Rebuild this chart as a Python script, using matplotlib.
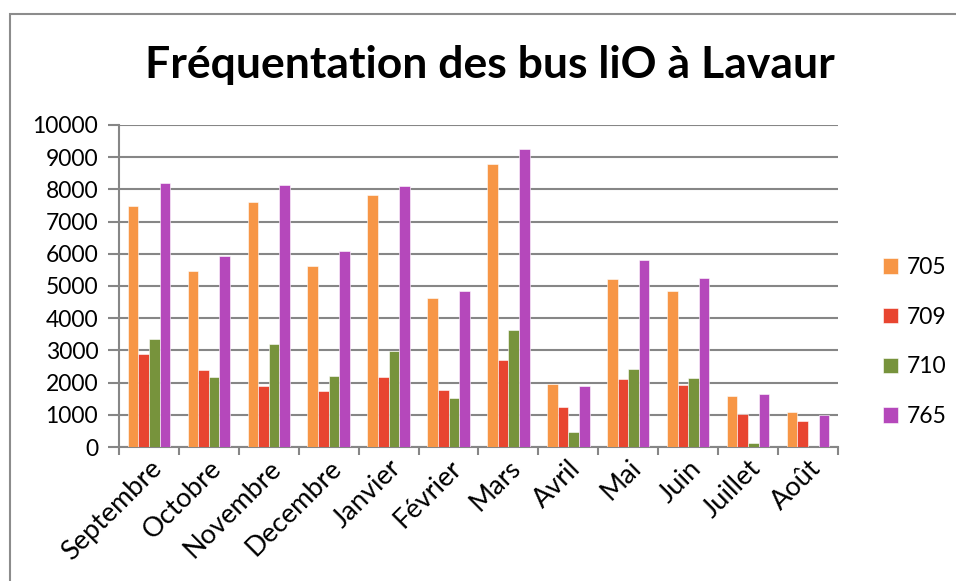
import numpy as np
import matplotlib.pyplot as plt
from matplotlib.patches import Rectangle

plt.rcParams['font.family'] = ['Lato', 'DejaVu Sans']

mois = ['Septembre', 'Octobre', 'Novembre', 'Decembre', 'Janvier', 'Février',
        'Mars', 'Avril', 'Mai', 'Juin', 'Juillet', 'Août']
lignes = ['705', '709', '710', '765']
bus_705 = [7470, 5480, 7600, 5630, 7830, 4640, 8800, 1960, 5210, 4830, 1580, 1100]
bus_709 = [2880, 2400, 1900, 1740, 2170, 1780, 2700, 1240, 2110, 1930, 1020, 800]
bus_710 = [3360, 2170, 3210, 2200, 2980, 1530, 3630, 470, 2410, 2130, 110, 0]
bus_765 = [8200, 5930, 8130, 6100, 8100, 4830, 9240, 1900, 5800, 5240, 1640, 985]
couleurs = ['#F79646', '#E84530', '#77933C', '#B548BB']

fig = plt.figure(figsize=(9.56, 5.81), dpi=100)
ax = fig.add_axes([0.1245, 0.2306, 0.752, 0.5543])

# cadre du graphique
fig.patches.append(Rectangle((10 / 956, -0.1), 1.1, (581 - 14) / 581 + 0.1,
                             transform=fig.transFigure, fill=False,
                             edgecolor='#8c8c8c', linewidth=1.5))

x = np.arange(len(mois))
w = 0.177
series = [bus_705, bus_709, bus_710, bus_765]
for i, (vals, c, lab) in enumerate(zip(series, couleurs, lignes)):
    ax.bar(x + (i - 1.5) * w, vals, width=w, color=c, label=lab,
           edgecolor='white', linewidth=0.4, zorder=3)

ax.set_xlim(-0.5, len(mois) - 0.5)
ax.set_ylim(0, 10000)
ax.set_yticks(np.arange(0, 10001, 1000))
ax.yaxis.grid(True, color='#868686', linewidth=1.5, zorder=0)
ax.set_xticks(x)
ax.set_xticklabels(mois, rotation=45, ha='right', rotation_mode='anchor', fontsize=19.5)
ax.set_xticks(np.arange(-0.5, len(mois), 1), minor=True)
ax.tick_params(axis='x', which='major', length=0, pad=6)
ax.tick_params(axis='x', which='minor', length=6, color='#868686', width=1.5)
ax.tick_params(axis='y', length=8, color='#868686', width=1.5, labelsize=16.5, pad=7)

for s in ['top', 'right']:
    ax.spines[s].set_visible(False)
for s in ['left', 'bottom']:
    ax.spines[s].set_color('#868686')
    ax.spines[s].set_linewidth(1.5)

fig.text(490 / 956, 1 - 65 / 581, 'Fréquentation des bus liO à Lavaur',
         ha='center', va='center', fontsize=32, fontweight='bold')

fig.legend(loc='center left', bbox_to_anchor=(872 / 956, 1 - 342 / 581),
           frameon=False, fontsize=16.5, handlelength=0.65, handleheight=0.65,
           handletextpad=0.35, labelspacing=1.25, borderpad=0)

fig.savefig('out.png', dpi=100)
